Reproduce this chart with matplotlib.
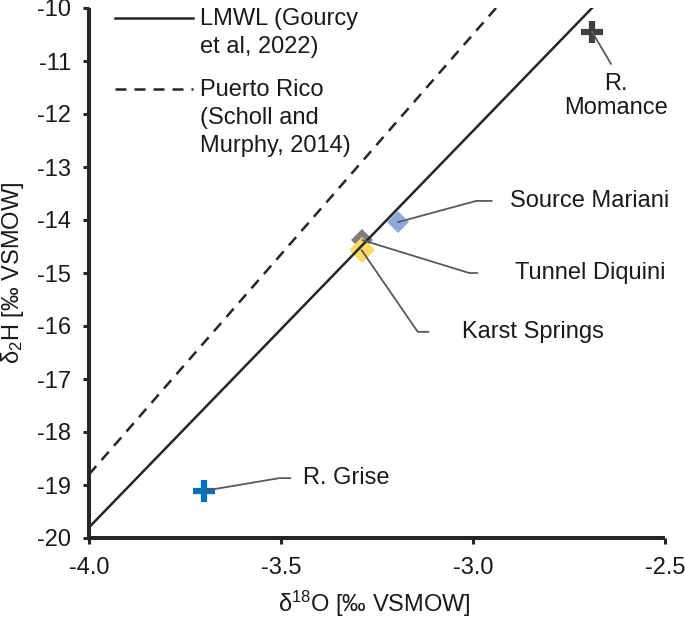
import numpy as np
import matplotlib
matplotlib.use("Agg")
import matplotlib.pyplot as plt

plt.rcParams['font.family'] = ['Liberation Sans', 'DejaVu Sans']
plt.rcParams['mathtext.fontset'] = 'custom'
plt.rcParams['mathtext.rm'] = 'Liberation Sans'
plt.rcParams['mathtext.default'] = 'regular'

# lignes meteoriques (extremites)
lmwl_x = [-4.0, -2.69]
lmwl_y = [-19.8, -10.0]
pr_x = [-4.0, -2.94]
pr_y = [-18.8, -10.0]

# echantillons
noms = ['R. Momance', 'Source Mariani', 'Tunnel Diquini', 'Karst Springs', 'R. Grise']
d18O = [-2.69, -3.195, -3.288, -3.29, -3.70]
d2H = [-10.45, -14.04, -14.38, -14.57, -19.11]

couleurs = ['#404040', '#8EA9DB', '#7F7F7F', '#FFD966', '#0070C0']
marqueurs = ['+', 'D', 'D', 'D', '+']
tailles = [16, 11, 11, 13.5, 16]

# position des etiquettes (x, y) en donnees
etiq_x = [-2.627, -2.904, -2.891, -3.029, -3.443]
etiq_y = [-11.66, -13.64, -15.00, -16.11, -18.87]
angles = [None, 15.2, -17.1, -55.5, 9.6]
retraits = [5, 11, 25, 22, 7]

fs = 17
txt = '#1a1a1a'
gris = '#262626'

fig = plt.figure(figsize=(6.85, 6.19), dpi=100)
ax = fig.add_axes([89/685, 1 - 538/619, (665 - 89)/685, (538 - 8)/619])

for i in range(len(noms)):
    if marqueurs[i] == '+':
        ax.plot(d18O[i], d2H[i], marker='+', ms=tailles[i], mew=4.5,
                color=couleurs[i], linestyle='none', zorder=2)
    else:
        ax.plot(d18O[i], d2H[i], marker='D', ms=tailles[i], mew=0,
                color=couleurs[i], linestyle='none', zorder=2)

ax.plot(lmwl_x, lmwl_y, color=gris, lw=1.8, zorder=3,
        label='LMWL (Gourcy\net al, 2022)')
ax.plot(pr_x, pr_y, color=gris, lw=1.8, dashes=(4.4, 3.2), zorder=3,
        label='Puerto Rico\n(Scholl and\nMurphy, 2014)')

for i in range(len(noms)):
    if angles[i] is None:
        label = 'R.\nMomance'
        ax.annotate(label, xy=(d18O[i], d2H[i]), xytext=(etiq_x[i], etiq_y[i]),
                    ha='center', va='center', fontsize=fs, color=txt,
                    linespacing=1.15,
                    arrowprops=dict(arrowstyle='-', color='#595959', lw=1.3,
                                    shrinkA=retraits[i], shrinkB=0,
                                    relpos=(0.5, 1.0),
                                    connectionstyle='arc3,rad=0'),
                    zorder=4)
    else:
        ax.annotate(noms[i], xy=(d18O[i], d2H[i]), xytext=(etiq_x[i], etiq_y[i]),
                    ha='left', va='center', fontsize=fs, color=txt,
                    arrowprops=dict(arrowstyle='-', color='#595959', lw=1.3,
                                    shrinkA=retraits[i], shrinkB=0,
                                    relpos=(0.0, 0.5),
                                    connectionstyle='angle,angleA=0,angleB=%g,rad=0' % angles[i]),
                    zorder=4)

ax.set_xlim(-4.0, -2.5)
ax.set_ylim(-20, -10)
ax.set_xticks([-4.0, -3.5, -3.0, -2.5])
ax.set_xticklabels(['-4.0', '-3.5', '-3.0', '-2.5'])
ax.set_yticks(np.arange(-20, -9, 1))
ax.set_yticklabels([str(v) for v in range(-20, -9)])

for s in ['top', 'right']:
    ax.spines[s].set_visible(False)
for s in ['left', 'bottom']:
    ax.spines[s].set_linewidth(2.9)
    ax.spines[s].set_color(gris)
    ax.spines[s].set_capstyle('butt')
ax.tick_params(axis='both', length=4, width=2.2, color=gris, labelsize=fs,
               labelcolor=txt)
ax.tick_params(axis='x', pad=10)
ax.tick_params(axis='y', pad=9)

ax.set_xlabel(r'δ$^{18}$O [‰ VSMOW]', fontsize=fs, color=txt, labelpad=7)
ax.xaxis.set_label_coords(0.495, -0.095)
ax.set_ylabel(r'δ$_2$H [‰ VSMOW]', fontsize=fs, color=txt, labelpad=8)

leg = ax.legend(loc='upper left', bbox_to_anchor=(115/685, 1 - 8/619),
                bbox_transform=fig.transFigure, frameon=False, fontsize=fs,
                borderpad=0, borderaxespad=0, handlelength=3.3,
                handletextpad=0.3, labelspacing=0.9)
hauteur = fs * 1.14
for t in leg.get_texts():
    t.set_color(txt)
    t.set_linespacing(1.35)
for ligne, t in zip(leg.get_lines(), leg.get_texts()):
    n = t.get_text().count('\n') + 1
    ligne.set_ydata(np.asarray(ligne.get_ydata()) + (n - 1) / 2 * hauteur + 1.5)

fig.savefig('out.png', dpi=100)
